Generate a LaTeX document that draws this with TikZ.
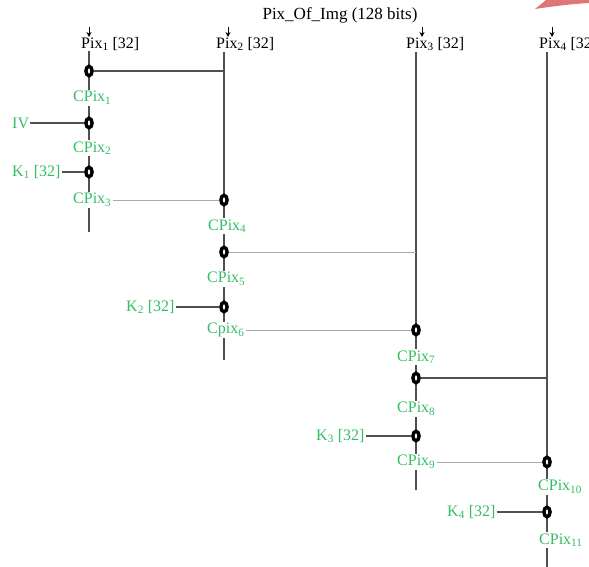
\documentclass[tikz,border=0pt]{standalone}
\usepackage{fontspec}
\setmainfont{Liberation Serif}
\usetikzlibrary{arrows.meta,shapes.geometric}

\definecolor{verde}{RGB}{52,190,100}
\definecolor{linea}{RGB}{80,80,80}
\definecolor{lineaclara}{RGB}{170,170,170}
\definecolor{rojo}{RGB}{222,118,118}

\begin{document}
\begin{tikzpicture}[x=1pt, y=-1pt,
    font=\fontsize{16}{18}\selectfont,
    xorop/.style={ellipse, draw=black, fill=white, line width=3.4pt,
        minimum width=6.2pt, minimum height=9.5pt, inner sep=0pt},
    etq/.style={text=verde, fill=white, inner sep=1pt, anchor=west},
    pixlbl/.style={inner sep=1pt, anchor=west},
    vert/.style={linea, line width=1.2pt},
    enlace/.style={linea, line width=1.1pt},
    enlaceclaro/.style={lineaclara, line width=1pt},
    flecha/.style={-{Stealth[length=5pt,width=5pt]}, line width=0.8pt}]
    \useasboundingbox (0,0) rectangle (589,567);

    % Trazo rojo de la esquina
    \fill[rojo] (535,9) -- (546,0) -- (589,0) -- (589,3)
        .. controls (572,4) and (555,6) .. (535,9) -- cycle;

    % Titulo y bloques de entrada
    \node[font=\fontsize{17}{19}\selectfont] (titulo) at (340,15) {Pix\_Of\_Img (128 bits)};
    \node[pixlbl] (pix1) at (80,44) {Pix\textsubscript{1} [32]};
    \node[pixlbl] (pix2) at (215,44) {Pix\textsubscript{2} [32]};
    \node[pixlbl] (pix3) at (405,44) {Pix\textsubscript{3} [32]};
    \node[pixlbl] (pix4) at (538,44) {Pix\textsubscript{4} [32]};

    % Flechas de entrada
    \foreach \x/\n in {89/1, 228/2, 422/3, 552/4} {
        \coordinate (fa\n) at (\x,27);
        \coordinate (fb\n) at (\x,37);
        \draw[flecha] (fa\n) -- (fb\n);
    }

    % Lineas verticales
    \coordinate (s1) at (89,51);  \coordinate (e1) at (89,232);
    \coordinate (s2) at (224,52); \coordinate (e2) at (224,360);
    \coordinate (s3) at (416,52); \coordinate (e3) at (416,490);
    \coordinate (s4) at (547,52); \coordinate (e4) at (547,567);
    \foreach \n in {1,...,4}
        \draw[vert] (s\n) -- (e\n);

    % Operaciones XOR
    \node[xorop] (x11) at (89,71) {};
    \node[xorop] (x12) at (89,123) {};
    \node[xorop] (x13) at (89,172) {};
    \node[xorop] (x21) at (224,200) {};
    \node[xorop] (x22) at (224,252) {};
    \node[xorop] (x23) at (224,307) {};
    \node[xorop] (x31) at (416,330) {};
    \node[xorop] (x32) at (416,378) {};
    \node[xorop] (x33) at (416,436) {};
    \node[xorop] (x41) at (547,462) {};
    \node[xorop] (x42) at (547,512) {};

    % Etiquetas verdes
    \node[etq] (cp1) at (72,98) {CPix\textsubscript{1}};
    \node[etq] (iv) at (11,123) {IV};
    \node[etq] (cp2) at (72,148) {CPix\textsubscript{2}};
    \node[etq] (k1) at (11,172) {K\textsubscript{1} [32]};
    \node[etq] (cp3) at (72,200) {CPix\textsubscript{3}};
    \node[etq] (cp4) at (207,226) {CPix\textsubscript{4}};
    \node[etq] (cp5) at (206,279) {CPix\textsubscript{5}};
    \node[etq] (k2) at (125,307) {K\textsubscript{2} [32]};
    \node[etq] (cp6) at (206,330) {Cpix\textsubscript{6}};
    \node[etq] (cp7) at (396,357) {CPix\textsubscript{7}};
    \node[etq] (cp8) at (396,409) {CPix\textsubscript{8}};
    \node[etq] (k3) at (315,436) {K\textsubscript{3} [32]};
    \node[etq] (cp9) at (396,462) {CPix\textsubscript{9}};
    \node[etq] (cp10) at (537,487) {CPix\textsubscript{10}};
    \node[etq] (k4) at (446,512) {K\textsubscript{4} [32]};
    \node[etq] (cp11) at (538,540) {CPix\textsubscript{11}};

    % Enlaces horizontales
    \draw[enlace] (x11) -- (x11 -| s2);
    \draw[enlace] (iv) -- (x12);
    \draw[enlace] (k1) -- (x13);
    \draw[enlace] (k2) -- (x23);
    \draw[enlace] (k3) -- (x33);
    \draw[enlace] (k4) -- (x42);
    \draw[enlace] (x32) -- (x32 -| s4);
    \draw[enlaceclaro] (cp3) -- (x21);
    \draw[enlaceclaro] (x22) -- (x22 -| s3);
    \draw[enlaceclaro] (cp6) -- (x31);
    \draw[enlaceclaro] (cp9) -- (x41);

\end{tikzpicture}
\end{document}
